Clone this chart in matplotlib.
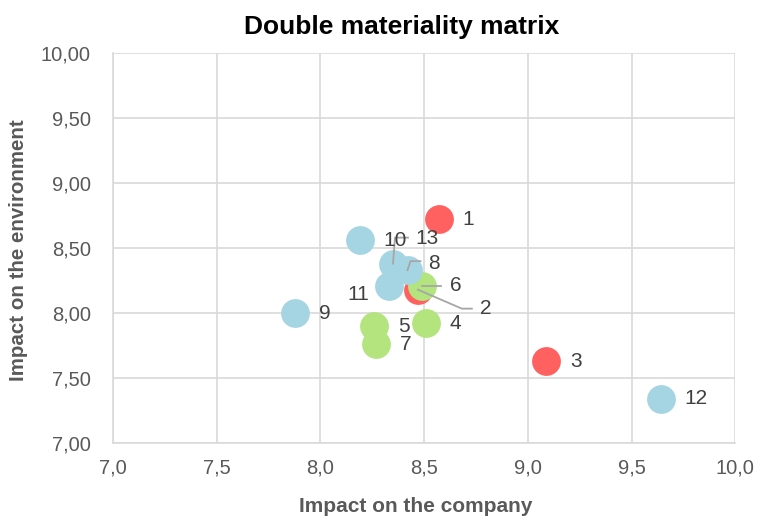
import matplotlib
matplotlib.use("Agg")
import matplotlib.pyplot as plt
from matplotlib.ticker import FuncFormatter

plt.rcParams['font.family'] = ['Liberation Sans', 'DejaVu Sans']

# data
red_ids = ["1", "2", "3"]
red_x = [8.57, 8.47, 9.09]
red_y = [8.72, 8.18, 7.63]

green_ids = ["4", "5", "6", "7"]
green_x = [8.51, 8.26, 8.49, 8.27]
green_y = [7.92, 7.90, 8.21, 7.76]

blue_ids = ["8", "9", "10", "11", "12", "13"]
blue_x = [8.42, 7.88, 8.19, 8.33, 9.64, 8.35]
blue_y = [8.33, 8.00, 8.56, 8.21, 7.34, 8.38]

title = "Double materiality matrix"
xlabel = "Impact on the company"
ylabel = "Impact on the environment"

RED = "#FF6161"
GREEN = "#B3E47E"
BLUE = "#A5D5E2"
TXT = "#404040"
LEAD = "#A6A6A6"
FS = 15

fig = plt.figure(figsize=(7.58, 5.20), dpi=100)
ax = fig.add_axes([0.149, 0.148, 0.821, 0.750])

S = 430
ax.scatter(red_x, red_y, s=S, color=RED, linewidths=0, zorder=3)
ax.scatter(green_x, green_y, s=S, color=GREEN, linewidths=0, zorder=4)
ax.scatter(blue_x, blue_y, s=S, color=BLUE, linewidths=0, zorder=5)

ax.set_xlim(7.0, 10.0)
ax.set_ylim(7.0, 10.0)
ax.set_xticks([7.0, 7.5, 8.0, 8.5, 9.0, 9.5, 10.0])
ax.set_yticks([7.0, 7.5, 8.0, 8.5, 9.0, 9.5, 10.0])
ax.xaxis.set_major_formatter(FuncFormatter(lambda v, p: f"{v:.1f}".replace(".", ",")))
ax.yaxis.set_major_formatter(FuncFormatter(lambda v, p: f"{v:.2f}".replace(".", ",")))
ax.grid(True, color="#D9D9D9", linewidth=1.2, zorder=0)
ax.set_axisbelow(True)
for sp in ["top", "right"]:
    ax.spines[sp].set_visible(False)
for sp in ["left", "bottom"]:
    ax.spines[sp].set_color("#D9D9D9")
    ax.spines[sp].set_linewidth(1.2)
ax.tick_params(axis="both", length=0, labelsize=14.5, labelcolor="#595959")
ax.tick_params(axis="x", pad=11)
ax.tick_params(axis="y", pad=16)

fig.text(402 / 758, 1 - 27 / 520, title, fontsize=19, fontweight="bold",
         color="black", ha="center", va="center")
fig.text(416 / 758, 1 - 506 / 520, xlabel, fontsize=15, fontweight="bold",
         color="#595959", ha="center", va="center")
fig.text(19 / 758, 1 - 250 / 520, ylabel, fontsize=14.8, fontweight="bold",
         color="#595959", ha="center", va="center", rotation=90)

all_ids = red_ids + green_ids + blue_ids
all_x = red_x + green_x + blue_x
all_y = red_y + green_y + blue_y
pts = {i: (x, y) for i, x, y in zip(all_ids, all_x, all_y)}

simple = ["1", "3", "4", "5", "7", "9", "10", "12"]
for k in simple:
    ax.annotate(k, pts[k], xytext=(17, 0), textcoords="offset points",
                fontsize=FS, color=TXT, va="center", ha="left", zorder=7)

ax.annotate("11", pts["11"], xytext=(-14, -6), textcoords="offset points",
            fontsize=FS, color=TXT, va="center", ha="right", zorder=7)


def leader(k, elbow, end, text_off):
    x0, y0 = ax.transData.transform(pts[k])
    tr = ax.transData.inverted()
    p1 = tr.transform((x0 + elbow[0], y0 + elbow[1]))
    p2 = tr.transform((x0 + end[0], y0 + end[1]))
    ax.plot([pts[k][0], p1[0], p2[0]], [pts[k][1], p1[1], p2[1]],
            color=LEAD, linewidth=1.3, zorder=6)
    pt = tr.transform((x0 + text_off[0], y0 + text_off[1]))
    ax.text(pt[0], pt[1], k, fontsize=FS, color=TXT, va="center", ha="left", zorder=7)


leader("13", (2, 26), (15, 26), (22, 25))
leader("8", (3, 9), (13, 9), (21, 7))
leader("2", (44, -19), (54, -19), (62, -19))
leader("6", (19, 0), (19, 0), (28, 0))

fig.savefig("out.png", dpi=100)
